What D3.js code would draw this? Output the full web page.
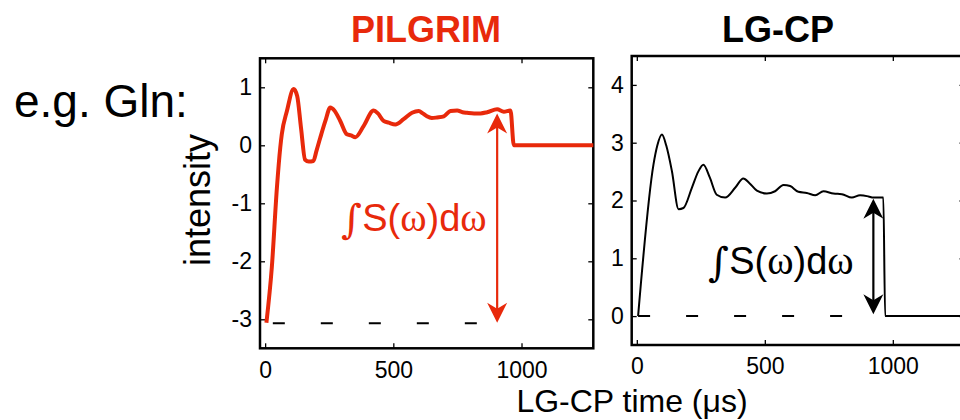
<!DOCTYPE html>
<html>
<head>
<meta charset="utf-8">
<script src="https://cdn.jsdelivr.net/npm/d3@7"></script>
<style>
  body { margin: 0; background: #fff; }
  svg { display: block; font-family: "Liberation Sans", Arial, sans-serif; }
</style>
</head>
<body>
<div id="vis-container"></div>
<script>
// PILGRIM curve (red), time in us vs intensity
let pilgrimTime = [5, 26, 46, 59, 65, 85, 111, 125, 140, 156, 170, 188, 200, 215, 235, 254,
  270, 293, 319, 335, 352, 384, 423, 440, 462, 482, 508, 540, 573, 599, 615, 631, 650, 671, 697,
  723, 749, 770, 788, 815, 840, 866, 905, 931, 957, 970, 1300];
let pilgrimValue = [-3.06, -2.11, -0.73, -0.04, 0.19, 0.59, 0.97, 0.85, 0.3, -0.25, -0.28, -0.27, -0.1, 0.13, 0.42, 0.65,
  0.6, 0.42, 0.19, 0.17, 0.14, 0.33, 0.6, 0.55, 0.42, 0.39, 0.36, 0.45, 0.56, 0.59, 0.55, 0.5, 0.47, 0.48, 0.5,
  0.59, 0.6, 0.57, 0.56, 0.55, 0.55, 0.57, 0.62, 0.58, 0.6, 0, 0];

// LG-CP curve (black)
let lgcpTime = [5, 65, 80, 98, 115, 137, 163, 182, 215, 240, 260, 285, 312, 345, 384, 416, 440, 469,
  508, 540, 573, 599, 631, 664, 697, 729, 768, 801, 840, 872, 905, 924, 963, 970, 1300];
let lgcpValue = [0, 2.62, 2.95, 3.14, 2.95, 2.51, 1.85, 1.87, 2.22, 2.5, 2.62, 2.4, 2.1, 2.05, 2.22, 2.38, 2.3, 2.17,
  2.12, 2.16, 2.27, 2.25, 2.15, 2.13, 2.09, 2.16, 2.12, 2.11, 2.05, 2.09, 2.07, 2.05, 2.05, 0, 0];

let xTicks = [0, 500, 1000];
let pilgrimYTicks = [-3, -2, -1, 0, 1];
let lgcpYTicks = [0, 1, 2, 3, 4];

// dashed baseline and the double arrow for each panel
let baseStart = [30, 5];
let baseEnd = [830, 810];
let baseLevel = [-3.07, 0];
let arrowX = [905, 924];
let arrowTop = [0.55, 2.03];
let arrowBottom = [-3.06, 0.03];

let width = 960;
let height = 420;

let svg = d3.select("#vis-container")
  .append("svg")
  .attr("width", width)
  .attr("height", height);

let panels = [
  { title: "PILGRIM", color: "#e8290b", lw: 4, time: pilgrimTime, value: pilgrimValue,
    x0: 260, x1: 593.3, y0: 58.3, y1: 348.3, ydom: [-3.5, 1.5], yticks: pilgrimYTicks, titleX: 426, labelX: 414, labelY: 231 },
  { title: "LG-CP", color: "#000", lw: 2, time: lgcpTime, value: lgcpValue,
    x0: 631.7, x1: 964.5, y0: 56, y1: 345, ydom: [-0.5, 4.5], yticks: lgcpYTicks, titleX: 778, labelX: 781, labelY: 274 }
];

panels.forEach(function (p, i) {
  let x = d3.scaleLinear().domain([-20, 1280]).range([p.x0, p.x1]);
  let y = d3.scaleLinear().domain(p.ydom).range([p.y1, p.y0]);
  let g = svg.append("g");

  svg.append("clipPath").attr("id", "clip" + i)
    .append("rect").attr("x", p.x0).attr("y", p.y0)
    .attr("width", p.x1 - p.x0).attr("height", p.y1 - p.y0);

  // axes with inside ticks, mirrored on all sides
  let ax = function (gen, tr) {
    let a = g.append("g").attr("transform", tr).call(gen);
    a.select(".domain").remove();
    a.selectAll("line").attr("stroke", "#000").attr("stroke-width", 1.3);
    a.selectAll("text").attr("font-size", 23).attr("fill", "#000")
      .attr("font-family", "Liberation Sans, Arial, sans-serif");
    return a;
  };
  let plain = d => String(d);
  ax(d3.axisBottom(x).tickValues(xTicks).tickSize(-5).tickPadding(13).tickFormat(plain), "translate(0," + p.y1 + ")");
  ax(d3.axisTop(x).tickValues(xTicks).tickSize(-5).tickFormat(""), "translate(0," + p.y0 + ")");
  ax(d3.axisLeft(y).tickValues(p.yticks).tickSize(-5).tickPadding(8).tickFormat(plain), "translate(" + p.x0 + ",0)");
  ax(d3.axisRight(y).tickValues(p.yticks).tickSize(-5).tickFormat(""), "translate(" + p.x1 + ",0)");

  g.append("rect")
    .attr("x", p.x0).attr("y", p.y0)
    .attr("width", p.x1 - p.x0).attr("height", p.y1 - p.y0)
    .attr("fill", "none").attr("stroke", "#000").attr("stroke-width", 2.5);

  // dashed baseline
  g.append("line")
    .attr("x1", x(baseStart[i])).attr("x2", x(baseEnd[i]))
    .attr("y1", y(baseLevel[i])).attr("y2", y(baseLevel[i]))
    .attr("stroke", "#000").attr("stroke-width", 2)
    .attr("stroke-dasharray", "12,36");

  // the curve
  let pts = p.time.map(function (t, k) { return [t, p.value[k]]; });
  g.append("path")
    .datum(pts)
    .attr("clip-path", "url(#clip" + i + ")")
    .attr("d", d3.line().x(d => x(d[0])).y(d => y(d[1])).curve(d3.curveMonotoneX))
    .attr("fill", "none")
    .attr("stroke", p.color)
    .attr("stroke-width", p.lw)
    .attr("stroke-linejoin", "round");

  // double arrow
  let ax0 = x(arrowX[i]), yt = y(arrowTop[i]), yb = y(arrowBottom[i]);
  g.append("line")
    .attr("x1", ax0).attr("x2", ax0).attr("y1", yt + 10).attr("y2", yb - 10)
    .attr("stroke", p.color).attr("stroke-width", 2.2);
  let head = function (tipY, dir) {
    let pts = [[ax0, tipY], [ax0 - 10, tipY + dir * 20], [ax0, tipY + dir * 14], [ax0 + 10, tipY + dir * 20]];
    g.append("polygon").attr("points", pts.map(q => q.join(",")).join(" ")).attr("fill", p.color);
  };
  head(yt, 1);
  head(yb, -1);

  // integral label
  let lab = g.append("text")
    .attr("x", p.labelX).attr("y", p.labelY)
    .attr("text-anchor", "middle")
    .attr("font-size", 38)
    .attr("fill", p.color);
  lab.append("tspan").attr("font-family", "DejaVu Serif, serif").attr("font-size", 40).attr("dy", 2).text("\u222B");
  lab.append("tspan").attr("dy", -2).text("S(");
  lab.append("tspan").attr("font-family", "Liberation Serif, serif").attr("font-size", 40).text("\u03C9");
  lab.append("tspan").text(")d");
  lab.append("tspan").attr("font-family", "Liberation Serif, serif").attr("font-size", 40).text("\u03C9");

  // panel title
  svg.append("text")
    .attr("x", p.titleX).attr("y", 42)
    .attr("text-anchor", "middle")
    .attr("font-size", 36)
    .attr("font-weight", "bold")
    .attr("fill", p.color)
    .text(p.title);
});

svg.append("text")
  .attr("x", 14).attr("y", 117)
  .attr("font-size", 46)
  .text("e.g. Gln:");

svg.append("text")
  .attr("transform", "translate(210,200) rotate(-90)")
  .attr("text-anchor", "middle")
  .attr("font-size", 36)
  .text("intensity");

svg.append("text")
  .attr("x", 632).attr("y", 412)
  .attr("text-anchor", "middle")
  .attr("font-size", 32)
  .text("LG-CP time (\u03BCs)");
</script>
</body>
</html>
